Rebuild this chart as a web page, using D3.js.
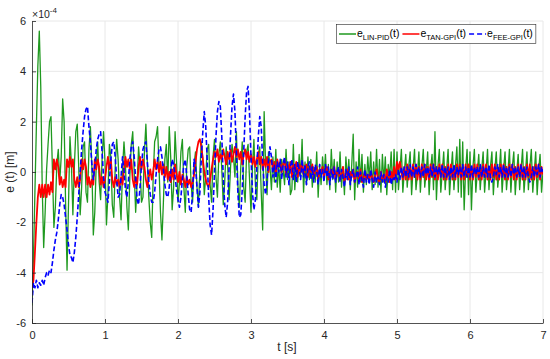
<!DOCTYPE html>
<html>
<head>
<meta charset="utf-8">
<style>
  body {
    margin: 0;
    background: #fff;
  }
  svg {
    display: block;
    font-family: "Liberation Sans", Arial, sans-serif;
  }
  .grid line {
    stroke: #e8e8e8;
    stroke-width: 1;
  }
  .axis path, .axis line {
    stroke: #262626;
    stroke-width: 0.8;
  }
  .axis text {
    fill: #262626;
    font-size: 11px;
  }
</style>
<script src="https://cdn.jsdelivr.net/npm/d3@7"></script>
</head>
<body>
<script>
// sample step of the recorded errors [s]
var dt = 0.02;

// e_LIN-PID(t), units of 1e-4 m, one row = 0.2 s
var eLinPid = [
  -5.3, -3.4, -0.8, 1.8, 4.2, 5.6, 3.4, -0.6, -3.0, -1.6,
  0.1, 1.1, 2.0, 2.2, 0.1, -2.2, -1.4, 0.3, 0.9, -0.4,
  0.6, 2.9, 2.0, -1.2, -3.9, -1.3, 1.4, 0.3, -1.7, 0.2,
  1.6, 1.9, 0.2, -1.7, -0.6, 1.0, 1.2, -0.8, -1.2, 0.9,
  1.8, 0.2, -2.5, -1.6, 0.3, 1.2, -0.4, -1.1, 0.5, 1.6,
  0.4, -2.1, -0.9, 1.1, 0.6, -1.3, -1.8, 0.2, 1.3, 0.5,
  -1.0, -1.9, 0.1, 1.2, 0.3, -1.4, -2.3, -0.2, 1.1, 1.6,
  0.0, -1.6, -0.5, 1.0, 0.2, -1.2, -1.0, 0.8, 1.9, 0.4,
  -1.0, -2.0, -2.6, -0.2, 1.2, 1.4, 1.8, 0.2, -1.6, -2.7,
  -1.2, 0.5, 1.1, -0.4, 1.8, 0.6, -1.5, -0.6, 1.6, 0.4,
  -1.2, -0.4, 0.8, 1.3, -0.6, -1.6, 0.2, 0.9, 1.0, -0.5,
  -1.2, 0.3, 0.8, -0.6, -1.4, 0.1, 1.2, 0.5, -0.9, -0.2,
  0.9, 1.1, -0.5, -1.2, 0.6, 1.3, -0.2, -1.0, 0.7, 1.2,
  0.1, -1.3, -0.4, 1.0, 0.3, -1.1, 0.2, 1.1, 0.6, -0.2,
  1.6, -0.5, -1.4, 0.2, 1.2, -0.6, -1.2, 0.8, 1.1, -0.3,
  -1.6, 0.2, 1.3, -0.5, -1.1, 0.7, 1.0, -0.8, -2.3, 2.4,
  0.3, -0.9, 0.8, 0.2, -0.7, 0.6, -0.4, 0.9, -0.6, 0.3,
  -0.8, 0.5, 0.1, -0.5, 0.9, -0.3, 0.4, -0.9, -0.7, 1.1,
  -0.7, 0.3, -0.4, 0.7, -0.2, 1.3, -0.8, 0.4, -0.5, 0.6,
  -0.3, 0.5, -0.6, 0.2, -0.4, 0.8, -1.0, 0.3, -0.5, 0.6,
  -0.2, 0.7, -0.5, 0.3, -0.7, 0.9, -0.3, 0.5, -0.8, 0.4,
  -0.4, 0.8, -0.6, 0.2, -0.9, 0.6, -0.3, 0.5, -0.7, 0.3,
  1.5, -1.1, 0.4, -0.6, 0.9, -0.4, 0.7, -0.8, 0.3, -0.5,
  0.6, -0.3, 0.8, -0.7, 0.4, -0.5, 0.9, -0.6, 0.5, -0.8,
  0.7, -0.4, 0.6, -0.9, 0.3, -0.2, 0.8, -0.7, 0.9, -0.8,
  0.8, -0.7, 0.1, 0.9, -0.8, 0.0, 0.7, -0.6, 0.2, 0.8,
  -0.9, 0.1, 0.9, -0.7, -0.1, 0.8, -0.8, 0.2, 0.9, -0.6,
  0.0, 0.8, -0.9, 0.1, 0.7, -0.7, 1.6, -1.1, 0.2, 0.9,
  -0.8, 0.0, 0.8, -0.7, 0.1, 0.9, -0.9, 0.0, 0.8, -0.7,
  0.2, 1.0, -0.8, 1.3, -1.0, 1.2, -1.5, 0.1, 0.9, -0.9,
  0.8, -1.5, 0.2, 0.9, -0.8, 0.0, 0.7, -0.7, 0.1, 0.8,
  -0.8, 0.0, 0.9, -0.7, 0.2, 0.8, -0.9, 0.1, 0.8, -0.6,
  0.0, 0.9, -0.8, 0.1, 0.8, -0.7, 0.0, 0.9, -0.8, 0.2,
  0.8, -0.9, 0.0, 0.7, -0.7, 0.1, 0.9, -0.8, 0.0, 0.8,
  -0.7, 0.2, 0.9, -0.8, 0.0, 0.8, -0.9, 0.1, 0.7, -0.8,
  0.0
];

// e_TAN-GPI(t)
var eTanGpi = [
  -4.6, -4.3, -3.2, -2.0, -1.0, -0.5, -1.0, -0.5, -1.0, -0.5,
  -1.0, -0.5, -0.9, -0.4, -0.8, 0.5, 0.1, 0.5, 0.2, -0.5,
  -0.2, -0.6, -0.3, -0.6, 0.5, 0.2, 0.6, 0.2, 0.5, -0.3,
  -0.6, -0.2, -0.6, -0.3, 0.5, 0.1, 0.5, 0.2, -0.5, -0.2,
  -0.6, -0.3, -0.5, 0.5, 0.1, 0.5, 0.2, -0.5, -0.2, -0.6,
  -0.3, 0.2, 0.6, 0.1, 0.5, -0.3, -0.6, -0.2, -0.5, -0.3,
  -0.6, -0.2, -0.5, 0.1, 0.6, 0.2, 0.5, 0.1, 0.5, -0.3,
  -0.6, -0.2, -0.5, 0.2, 0.6, 0.1, 0.5, 0.2, -0.3, -0.6,
  -0.2, 0.1, -0.3, 0.0, 0.5, 0.1, 0.4, 0.0, 0.4, -0.1,
  0.3, -0.2, 0.2, -0.3, 0.0, -0.4, 0.1, -0.3, 0.3, -0.1,
  -0.4, 0.0, -0.5, -0.1, -0.3, -0.6, -0.2, -0.5, -0.3, -0.6,
  -0.4, -0.1, 0.4, 0.9, 1.2, 1.3, 1.0, 0.5, 0.0, -0.3,
  -0.5, -0.6, -0.3, 0.1, 0.5, 0.8, 0.6, 0.9, 0.4, 0.7,
  0.5, 0.9, 0.6, 0.3, 0.8, 0.5, 0.9, 0.4, 0.7, 1.0,
  0.6, 0.9, 0.5, 0.8, 0.3, 0.7, 0.9, 0.5, 0.8, 0.4,
  0.7, 0.3, 0.6, 0.2, 0.5, 0.8, 0.3, 0.6, 0.1, 0.5,
  0.2, 0.6, 0.0, 0.4, 0.5, 0.1, 0.4, -0.1, 0.5, 0.2,
  0.4, 0.0, 0.3, 0.5, -0.1, 0.3, 0.1, 0.4, -0.2, 0.3,
  0.1, 0.4, -0.2, 0.3, 0.0, 0.4, -0.1, 0.2, 0.3, -0.2,
  0.2, 0.0, 0.3, -0.2, 0.1, 0.2, -0.3, 0.1, 0.0, 0.2,
  -0.2, 0.1, 0.2, -0.3, 0.0, 0.1, -0.2, 0.2, -0.3, 0.0,
  0.1, -0.3, 0.0, 0.2, -0.4, -0.1, 0.1, -0.3, 0.0, -0.2,
  0.1, -0.4, -0.1, 0.0, -0.3, 0.1, -0.4, -0.2, 0.0, -0.3,
  -0.1, -0.4, 0.0, -0.2, -0.4, -0.1, 0.1, -0.3, -0.4, 0.0,
  -0.3, -0.1, -0.4, 0.1, -0.2, -0.4, 0.0, -0.3, 0.2, -0.3,
  0.4, 0.1, 0.4, 0.0, -0.3, 0.2, -0.3, 0.3, -0.3, 0.2,
  -0.3, 0.3, -0.2, 0.3, -0.3, 0.2, -0.3, 0.3, -0.2, 0.3,
  -0.3, 0.2, -0.3, 0.3, -0.2, 0.3, -0.3, 0.2, -0.3, 0.3,
  -0.2, 0.3, -0.3, 0.2, -0.3, 0.3, -0.2, 0.3, -0.3, 0.2,
  -0.3, 0.3, -0.2, 0.3, -0.3, 0.2, -0.3, 0.3, -0.2, 0.3,
  -0.3, 0.2, -0.3, 0.3, -0.2, 0.3, -0.3, 0.2, -0.3, 0.3,
  -0.2, 0.3, -0.3, 0.2, -0.3, 0.3, -0.2, 0.3, -0.3, 0.2,
  -0.3, 0.3, -0.2, 0.3, -0.3, 0.2, -0.3, 0.3, -0.2, 0.3,
  -0.3, 0.2, -0.3, 0.3, -0.2, 0.3, -0.3, 0.2, -0.3, 0.3,
  -0.2, 0.3, -0.3, 0.2, -0.3, 0.3, -0.2, 0.3, -0.3, 0.2,
  -0.1
];

// e_FEE-GPI(t)
var eFeeGpi = [
  -5.2, -4.4, -4.6, -4.3, -4.6, -4.4, -4.5, -4.3, -4.5, -4.2,
  -4.0, -4.1, -3.9, -4.0, -3.6, -3.1, -2.7, -2.4, -1.9, -1.3,
  -0.9, -1.0, -1.3, -1.8, -2.3, -2.9, -3.3, -3.4, -3.6, -3.2,
  -2.6, -1.8, -0.9, 0.0, 0.9, 1.6, 2.2, 2.5, 2.6, 1.8,
  1.2, 0.3, -0.3, 0.2, 0.9, 1.3, 1.5, 1.6, 0.8, -0.2,
  -0.8, -1.0, -1.2, -0.4, 0.5, 1.1, 1.2, 0.6, -0.3, -1.0,
  -0.9, -0.2, 0.6, 0.1, -0.7, -1.0, -0.4, 0.5, 1.0, 1.2,
  0.6, -0.3, -1.1, -1.3, -0.6, 0.3, 0.9, 1.1, 1.2, 0.4,
  -0.4, -0.9, -1.2, -1.2, -0.8, -0.1, 0.5, 0.9, 1.0, 0.6,
  0.1, -0.5, -0.9, -1.0, -0.6, 0.0, 0.5, 0.3, -0.2, -0.7,
  -1.1, -1.4, -1.0, -0.3, 0.3, 0.5, -0.2, -0.9, -1.5, -1.6,
  -0.8, 0.5, 0.2, -0.6, -1.4, -0.8, 0.6, 1.6, 2.4, 1.8,
  0.5, -1.0, -2.1, -2.5, -1.5, 0.0, 1.4, 2.4, 2.8, 2.6,
  1.4, -0.2, -1.3, -1.8, -1.2, 0.2, 1.5, 2.6, 3.1, 2.4,
  0.8, -0.8, -1.8, -1.7, -0.7, 0.8, 2.2, 3.2, 3.4, 2.3,
  0.6, -0.8, -1.5, -1.1, 0.2, 1.4, 2.2, 1.8, 0.4, -0.5,
  -0.9, -0.3, 0.5, 1.0, 0.6, -0.2, 0.3, -0.4, 0.4, 0.0,
  0.5, -0.3, 0.3, 0.6, -0.2, 0.4, -0.5, 0.2, 0.5, -0.3,
  0.3, -0.4, 0.4, 0.1, -0.3, 0.5, -0.2, 0.3, -0.5, 0.2,
  0.4, -0.3, 0.2, -0.4, 0.3, 0.0, -0.5, 0.3, -0.2, 0.1,
  -0.4, 0.3, -0.2, 0.2, -0.5, 0.1, -0.3, 0.2, -0.4, 0.0,
  0.2, -0.4, 0.1, -0.2, -0.6, 0.1, -0.3, 0.2, -0.5, -0.1,
  0.1, -0.4, -0.2, 0.2, -0.5, 0.0, -0.3, -0.6, 0.1, -0.4,
  -0.1, -0.5, 0.1, -0.3, -0.6, 0.0, -0.4, -0.2, -0.5, 0.0,
  -0.4, -0.1, -0.6, -0.2, -0.4, 0.1, -0.5, -0.2, -0.3, -0.1,
  -0.4, 0.1, -0.3, 0.2, -0.2, 0.2, -0.2, 0.2, -0.2, 0.3,
  -0.2, 0.2, -0.2, 0.3, -0.1, 0.2, -0.2, 0.2, -0.2, 0.3,
  -0.1, 0.2, -0.2, 0.2, -0.2, 0.3, -0.2, 0.2, -0.1, 0.2,
  -0.2, 0.3, -0.2, 0.2, -0.2, 0.2, -0.3, 0.2, -0.2, 0.3,
  -0.2, 0.2, -0.1, 0.2, -0.2, 0.3, -0.2, 0.2, -0.2, 0.2,
  -0.2, 0.3, -0.2, 0.2, -0.1, 0.2, -0.2, 0.3, -0.2, 0.2,
  -0.2, 0.2, -0.2, 0.3, -0.2, -0.4, -0.2, 0.2, -0.1, 0.3,
  -0.2, 0.2, -0.2, 0.3, -0.2, 0.2, -0.2, 0.2, -0.2, 0.3,
  -0.1, 0.2, -0.2, 0.2, -0.2, 0.3, -0.2, 0.2, -0.2, 0.2,
  -0.2, -0.4, -0.2, 0.2, -0.2, 0.2, -0.1, 0.3, -0.2, 0.2,
  0.0
];

var xTicks = [0, 1, 2, 3, 4, 5, 6, 7];
var yTicks = [-6, -4, -2, 0, 2, 4, 6];

var seriesNames = ["LIN-PID", "TAN-GPI", "FEE-GPI"];
var seriesColors = ["#1f991f", "#ff0000", "#0000ff"];
var seriesWidths = [1.3, 1.8, 1.6];

var width = 550,
  height = 359;

var x = d3.scaleLinear().domain([0, 7]).range([32, 543]);
var y = d3.scaleLinear().domain([-6, 6]).range([323, 21]);

var svg = d3.select("body").append("svg")
  .attr("width", width)
  .attr("height", height);

svg.append("defs").append("clipPath")
  .attr("id", "plotArea")
  .append("rect")
  .attr("x", x(0))
  .attr("y", y(6))
  .attr("width", x(7) - x(0))
  .attr("height", y(-6) - y(6));

// grid
var grid = svg.append("g").attr("class", "grid");
grid.selectAll(".gx")
  .data(xTicks.slice(1))
  .enter().append("line")
  .attr("x1", d => x(d)).attr("x2", d => x(d))
  .attr("y1", y(-6)).attr("y2", y(6));
grid.selectAll(".gy")
  .data(yTicks.slice(1))
  .enter().append("line")
  .attr("x1", x(0)).attr("x2", x(7))
  .attr("y1", d => y(d)).attr("y2", d => y(d));

// lines
var series = [eLinPid, eTanGpi, eFeeGpi];
var line = d3.line()
  .x((d, i) => x(i * dt))
  .y(d => y(d));

var plot = svg.append("g").attr("clip-path", "url(#plotArea)");
plot.selectAll("path")
  .data(series)
  .enter().append("path")
  .attr("fill", "none")
  .attr("stroke", (d, i) => seriesColors[i])
  .attr("stroke-width", (d, i) => seriesWidths[i])
  .attr("stroke-linejoin", "round")
  .attr("stroke-dasharray", (d, i) => i == 2 ? "5,2.5" : null)
  .attr("d", line);

// axes, ticks point inwards like matlab
var xAxis = d3.axisBottom(x)
  .tickValues(xTicks)
  .tickFormat(d3.format("d"))
  .tickSizeInner(-4)
  .tickSizeOuter(0)
  .tickPadding(8);
svg.append("g")
  .attr("class", "axis")
  .attr("transform", "translate(0," + y(-6) + ")")
  .call(xAxis);

var yAxis = d3.axisLeft(y)
  .tickValues(yTicks)
  .tickFormat(d => d < 0 ? "-" + Math.abs(d) : d)
  .tickSizeInner(-4)
  .tickSizeOuter(0)
  .tickPadding(6);
svg.append("g")
  .attr("class", "axis")
  .attr("transform", "translate(" + x(0) + ",0)")
  .call(yAxis);

// axis labels
svg.append("text")
  .attr("x", 287)
  .attr("y", 351)
  .attr("text-anchor", "middle")
  .attr("font-size", 12)
  .attr("fill", "#262626")
  .text("t [s]");

svg.append("text")
  .attr("transform", "translate(14,172) rotate(-90)")
  .attr("text-anchor", "middle")
  .attr("font-size", 12)
  .attr("fill", "#262626")
  .text("e (t) [m]");

// exponent
var expo = svg.append("text")
  .attr("x", 32)
  .attr("y", 18)
  .attr("font-size", 10.5)
  .attr("fill", "#262626");
expo.append("tspan").text("\u00d710");
expo.append("tspan").attr("dy", -5).attr("font-size", 8).text("-4");

// legend
var legend = svg.append("g");
var box = legend.append("rect")
  .attr("x", 336.5)
  .attr("y", 24.5)
  .attr("height", 19)
  .attr("fill", "#fff")
  .attr("stroke", "#262626")
  .attr("stroke-width", 0.6);

var lx = 339;
seriesNames.forEach(function(name, i) {
  legend.append("line")
    .attr("x1", lx).attr("x2", lx + 17)
    .attr("y1", 34).attr("y2", 34)
    .attr("stroke", seriesColors[i])
    .attr("stroke-width", 1.5)
    .attr("stroke-dasharray", i == 2 ? "5,3" : null);
  var t = legend.append("text")
    .attr("x", lx + 18)
    .attr("y", 37)
    .attr("font-size", 10.5)
    .attr("fill", "#000");
  t.append("tspan").text("e");
  t.append("tspan").attr("dy", 3).attr("font-size", 7.5).text(name);
  t.append("tspan").attr("dy", -3).text("(t)");
  lx = lx + 18 + t.node().getComputedTextLength() + 3;
});
box.attr("width", lx - 336.5);
</script>
</body>
</html>
